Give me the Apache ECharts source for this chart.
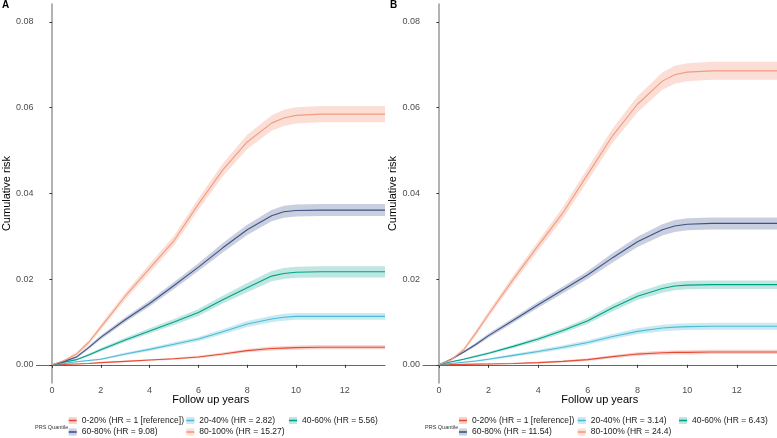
<!DOCTYPE html>
<html><head><meta charset="utf-8">
<script src="https://cdn.jsdelivr.net/npm/echarts@6/dist/echarts.min.js"></script>
<style>html,body{margin:0;padding:0;background:#fff}#c{width:777px;height:438px}</style>
</head><body><div id="c"></div><script>
// ---------- data ----------
const years = [0, 0.5, 1, 1.5, 2, 3, 4, 5, 6, 7, 8, 9, 9.5, 10, 11, 13.65];
const xTicks = [0, 2, 4, 6, 8, 10, 12];
const yTicks = [0, 0.02, 0.04, 0.06, 0.08];
const groupNames = ['0-20%', '20-40%', '40-60%', '60-80%', '80-100%'];
const hrA = ['1 [reference]', '2.82', '5.56', '9.08', '15.27'];
const hrB = ['1 [reference]', '3.14', '6.43', '11.54', '24.4'];

// Panel A cumulative risk
const riskA_0_20   = [0, 0.0001, 0.0002, 0.0003, 0.0005, 0.0008, 0.0011, 0.0014, 0.0018, 0.0025, 0.0033, 0.0038, 0.0039, 0.0040, 0.0041, 0.0041];
const riskA_20_40  = [0, 0.0003, 0.0007, 0.0010, 0.0013, 0.0025, 0.0036, 0.0048, 0.0060, 0.0077, 0.0095, 0.0107, 0.0111, 0.0113, 0.0113, 0.0113];
const riskA_40_60  = [0, 0.0006, 0.0012, 0.0023, 0.0035, 0.0058, 0.0079, 0.0100, 0.0122, 0.0152, 0.0180, 0.0207, 0.0213, 0.0216, 0.0217, 0.0217];
const riskA_60_80  = [0, 0.0008, 0.0018, 0.0040, 0.0064, 0.0105, 0.0143, 0.0185, 0.0228, 0.0273, 0.0315, 0.0348, 0.0357, 0.0360, 0.0361, 0.0361];
const riskA_80_100 = [0, 0.0010, 0.0025, 0.0052, 0.0088, 0.0160, 0.0225, 0.0290, 0.0375, 0.0455, 0.0520, 0.0564, 0.0576, 0.0582, 0.0585, 0.0585];
// Panel A confidence half-widths
const ciA_0_20   = [0, 0.00005, 0.0001, 0.0001, 0.00015, 0.0002, 0.0002, 0.00025, 0.0003, 0.00035, 0.0004, 0.00045, 0.00045, 0.0005, 0.0005, 0.0005];
const ciA_20_40  = [0, 0.0001, 0.00015, 0.0002, 0.00025, 0.0003, 0.0004, 0.00045, 0.0005, 0.0006, 0.0007, 0.00075, 0.0008, 0.0008, 0.0008, 0.0008];
const ciA_40_60  = [0, 0.00015, 0.0002, 0.0003, 0.0004, 0.0005, 0.0006, 0.0007, 0.0008, 0.0009, 0.0011, 0.0012, 0.0013, 0.0013, 0.0013, 0.0013];
const ciA_60_80  = [0, 0.0002, 0.0003, 0.0004, 0.0005, 0.0006, 0.0007, 0.0008, 0.0009, 0.0011, 0.0012, 0.0013, 0.0014, 0.0014, 0.0014, 0.0014];
const ciA_80_100 = [0, 0.0002, 0.0004, 0.0005, 0.0006, 0.0008, 0.0010, 0.0011, 0.0013, 0.0015, 0.0017, 0.0018, 0.0019, 0.0019, 0.0019, 0.0019];

// Panel B cumulative risk
const riskB_0_20   = [0, 0.00005, 0.0001, 0.00015, 0.0002, 0.0003, 0.0005, 0.0008, 0.0012, 0.0019, 0.0025, 0.0028, 0.0029, 0.0029, 0.0030, 0.0030];
const riskB_20_40  = [0, 0.0003, 0.0006, 0.0009, 0.0013, 0.0022, 0.0031, 0.0041, 0.0052, 0.0066, 0.0078, 0.0086, 0.0088, 0.0089, 0.0090, 0.0090];
const riskB_40_60  = [0, 0.0007, 0.0013, 0.0020, 0.0027, 0.0043, 0.0060, 0.0080, 0.0103, 0.0133, 0.0160, 0.0178, 0.0184, 0.0186, 0.0187, 0.0187];
const riskB_60_80  = [0, 0.0013, 0.0030, 0.0048, 0.0068, 0.0104, 0.0140, 0.0175, 0.0210, 0.0250, 0.0287, 0.0315, 0.0324, 0.0328, 0.0330, 0.0330];
const riskB_80_100 = [0, 0.0012, 0.0035, 0.0075, 0.0118, 0.0200, 0.0278, 0.0355, 0.0445, 0.0535, 0.0608, 0.0662, 0.0677, 0.0683, 0.0686, 0.0686];
// Panel B confidence half-widths
const ciB_0_20   = [0, 0.00005, 0.0001, 0.0001, 0.00015, 0.0002, 0.0002, 0.00025, 0.0003, 0.00035, 0.0004, 0.00045, 0.00045, 0.0005, 0.0005, 0.0005];
const ciB_20_40  = [0, 0.0001, 0.00015, 0.0002, 0.00025, 0.0003, 0.0004, 0.00045, 0.0005, 0.0006, 0.0007, 0.00075, 0.0008, 0.0008, 0.0008, 0.0008];
const ciB_40_60  = [0, 0.00015, 0.0002, 0.0003, 0.0003, 0.0004, 0.0005, 0.0006, 0.0007, 0.0008, 0.0009, 0.0010, 0.0010, 0.0010, 0.0010, 0.0010];
const ciB_60_80  = [0, 0.0002, 0.0003, 0.0004, 0.0005, 0.0006, 0.0007, 0.0008, 0.0009, 0.0011, 0.0012, 0.0013, 0.0014, 0.0014, 0.0014, 0.0014];
const ciB_80_100 = [0, 0.0002, 0.0004, 0.0006, 0.0007, 0.0009, 0.0011, 0.0013, 0.0015, 0.0017, 0.0019, 0.0020, 0.0021, 0.0021, 0.0021, 0.0021];

// ---------- styling ----------
const colors = ['#E64B35', '#4DBBD5', '#00A087', '#3C5488', '#F39B7F'];
const bandColors = ['rgba(230,75,53,0.25)', 'rgba(77,187,213,0.3)', 'rgba(0,160,135,0.25)', 'rgba(60,84,136,0.28)', 'rgba(243,155,127,0.32)'];
const FONT = 'Liberation Sans, Arial, sans-serif';

const panels = [
  { risks: [riskA_0_20, riskA_20_40, riskA_40_60, riskA_60_80, riskA_80_100],
    cis: [ciA_0_20, ciA_20_40, ciA_40_60, ciA_60_80, ciA_80_100], hr: hrA,
    grid: { left: 32, width: 353, top: 4, height: 379 },
    legLeft: [68.7, 186.3, 289, 68.7, 186.3] },
  { risks: [riskB_0_20, riskB_20_40, riskB_40_60, riskB_60_80, riskB_80_100],
    cis: [ciB_0_20, ciB_20_40, ciB_40_60, ciB_60_80, ciB_80_100], hr: hrB,
    grid: { left: 423, width: 353.5, top: 4, height: 379 },
    legLeft: [459, 577.7, 679, 459, 577.7] }
];
const legTop = [416, 416, 416, 427.5, 427.5];

const grids = [], xAxes = [], yAxes = [], series = [], legends = [];
panels.forEach((p, pi) => {
  grids.push(Object.assign({ containLabel: false }, p.grid));
  xAxes.push({
    type: 'value', gridIndex: pi, min: -0.64, max: pi === 0 ? 13.65 : 13.6,
    name: 'Follow up years', nameLocation: 'middle', nameGap: 11, nameMoveOverlap: false,
    nameTextStyle: { fontSize: 11, color: '#000', fontFamily: FONT, verticalAlign: 'top' },
    axisLine: { show: true, lineStyle: { color: '#666', width: 1 } },
    axisTick: { show: true, length: 3, lineStyle: { color: '#333' }, customValues: xTicks },
    axisLabel: { fontSize: 9, color: '#4D4D4D', fontFamily: FONT, margin: 3, customValues: xTicks },
    splitLine: { show: false }
  });
  yAxes.push({
    type: 'value', gridIndex: pi, min: -0.00425, max: 0.0842,
    name: 'Cumulative risk', nameLocation: 'middle', nameGap: 14,
    nameTextStyle: { fontSize: 11, color: '#000', fontFamily: FONT },
    axisLine: { show: true, lineStyle: { color: '#999', width: 1.5 } },
    axisTick: { show: true, length: 2.5, lineStyle: { color: '#333' }, customValues: yTicks },
    axisLabel: { fontSize: 9, color: '#4D4D4D', fontFamily: FONT, margin: 3, customValues: yTicks,
                 formatter: v => v.toFixed(2) },
    splitLine: { show: false }
  });
  // confidence bands (polygon through axis coordinates)
  p.risks.forEach((r, k) => {
    const ci = p.cis[k];
    const bandData = years.map((t, i) => [t, r[i] - ci[i], r[i] + ci[i]]);
    series.push({
      type: 'custom', name: 'band' + pi + '_' + k, xAxisIndex: pi, yAxisIndex: pi, silent: true, z: 1,
      data: bandData, encode: { x: 0, y: [1, 2] },
      renderItem: (params, api) => {
        if (params.dataIndex !== 0) return null;
        const upper = bandData.map(d => api.coord([d[0], d[2]]));
        const lower = bandData.slice().reverse().map(d => api.coord([d[0], d[1]]));
        return { type: 'polygon', shape: { points: upper.concat(lower) },
                 style: { fill: bandColors[k], stroke: null } };
      }
    });
  });
  // lines
  p.risks.forEach((r, k) => {
    const nm = groupNames[k] + ' (HR = ' + p.hr[k] + ')';
    series.push({
      type: 'line', name: nm, xAxisIndex: pi, yAxisIndex: pi,
      data: years.map((t, i) => [t, r[i]]), symbol: 'none', showSymbol: false,
      lineStyle: { color: colors[k], width: 1.1 }, itemStyle: { color: colors[k] }, z: 3
    });
    // legend key: pale square + dash, then text
    legends.push({
      left: p.legLeft[k], top: legTop[k], padding: 0, itemWidth: 8, itemHeight: 7,
      selectedMode: false, icon: 'rect',
      textStyle: { fontSize: 8.5, color: '#1a1a1a', fontFamily: FONT },
      data: [{ name: nm, itemStyle: { color: bandColors[k] } }]
    });
    legends.push({
      left: p.legLeft[k], top: legTop[k], padding: 0, itemWidth: 8, itemHeight: 1.6,
      selectedMode: false, icon: 'rect',
      textStyle: { fontSize: 8.5, color: 'rgba(0,0,0,0)', fontFamily: FONT },
      data: [{ name: nm, itemStyle: { color: colors[k] } }]
    });
  });
});

const chart = echarts.init(document.getElementById('c'), null, { renderer: 'canvas' });
chart.setOption({
  animation: false,
  backgroundColor: '#fff',
  title: [
    { text: 'A', left: 2, top: 0, padding: 0, textStyle: { fontSize: 10, fontWeight: 'bold', color: '#000', fontFamily: FONT } },
    { text: 'B', left: 390, top: 0, padding: 0, textStyle: { fontSize: 10, fontWeight: 'bold', color: '#000', fontFamily: FONT } },
    { text: 'PRS Quantile', left: 35, top: 424, padding: 0, textStyle: { fontSize: 5.5, fontWeight: 'normal', color: '#333', fontFamily: FONT } },
    { text: 'PRS Quantile', left: 425, top: 424, padding: 0, textStyle: { fontSize: 5.5, fontWeight: 'normal', color: '#333', fontFamily: FONT } }
  ],
  grid: grids, xAxis: xAxes, yAxis: yAxes, legend: legends, series: series
});
</script></body></html>
